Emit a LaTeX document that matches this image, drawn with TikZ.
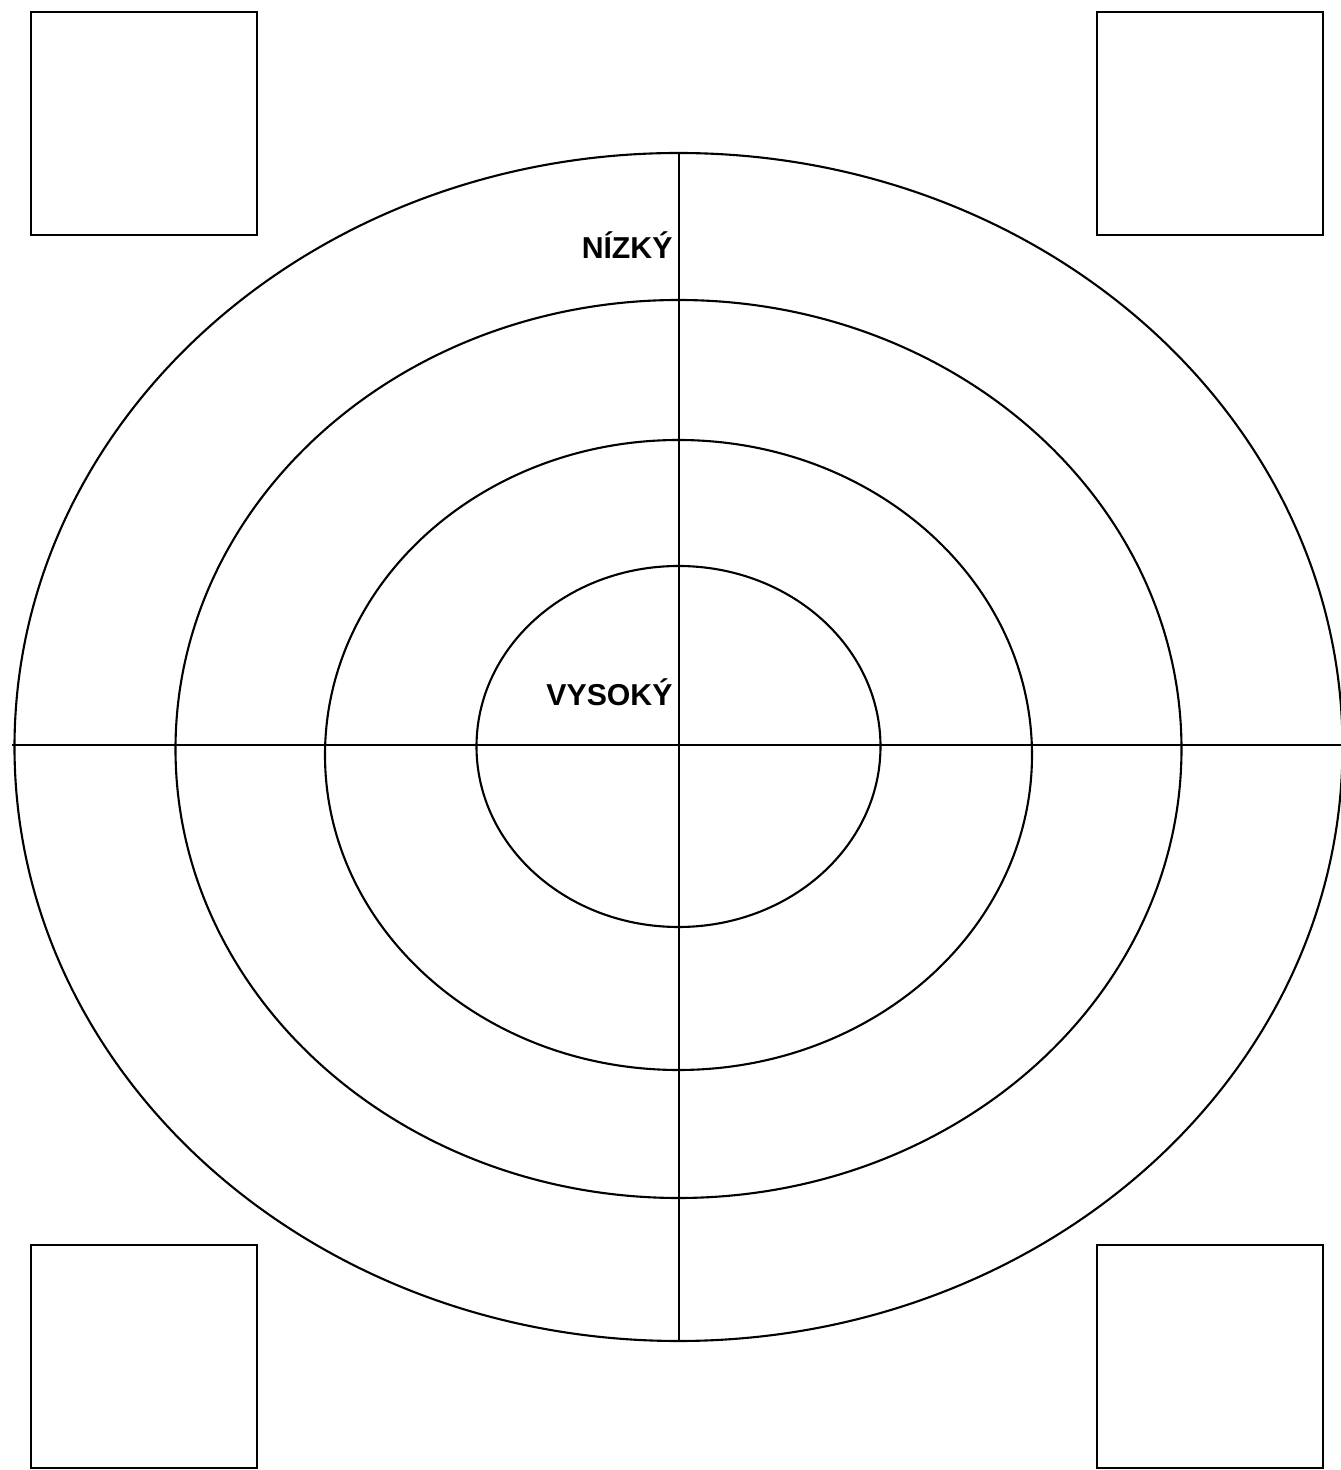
\documentclass[tikz,border=0pt]{standalone}
\usepackage{fontspec}
\setmainfont{Liberation Sans}
\usepackage{tikz}
\usetikzlibrary{positioning}

\tikzset{
  corner/.style={draw, line width=1.2pt, minimum width=4.52cm, minimum height=4.46cm, inner sep=0pt},
  level/.style={font=\fontsize{17.2}{19}\selectfont\bfseries, inner sep=0pt, anchor=base east}
}

\begin{document}
\begin{tikzpicture}[line width=1.2pt]

% Canvas
\useasboundingbox (0,0) rectangle (26.82,29.4);

% Centre of the target
\coordinate (c) at (13.58,14.5);

% Rings: centre height, x radius, y radius
\foreach \cy/\rx/\ry in {14.46/13.28/11.88, 14.42/10.06/8.98, 14.30/7.07/6.30, 14.47/4.04/3.61}
{
    \draw (13.57,\cy) ellipse [x radius=\rx cm, y radius=\ry cm];
}

% Axes
\coordinate (top) at (13.58,26.34);
\coordinate (bottom) at (13.58,2.56);
\coordinate (left) at (0.24,14.5);
\coordinate (right) at (26.9,14.5);
\draw (top) -- (bottom);
\draw (left) -- (right);

% Labels
\node[level] (low) at (13.47,24.23) {NÍZKÝ};
\node[level] (high) at (13.47,15.28) {VYSOKÝ};

% Corner boxes
\node[corner] (tl) at (2.88,26.93) {};
\node[corner] (tr) at (24.2,26.93) {};
\node[corner] (bl) at (2.88,2.27) {};
\node[corner] (br) at (24.2,2.27) {};

\end{tikzpicture}
\end{document}
